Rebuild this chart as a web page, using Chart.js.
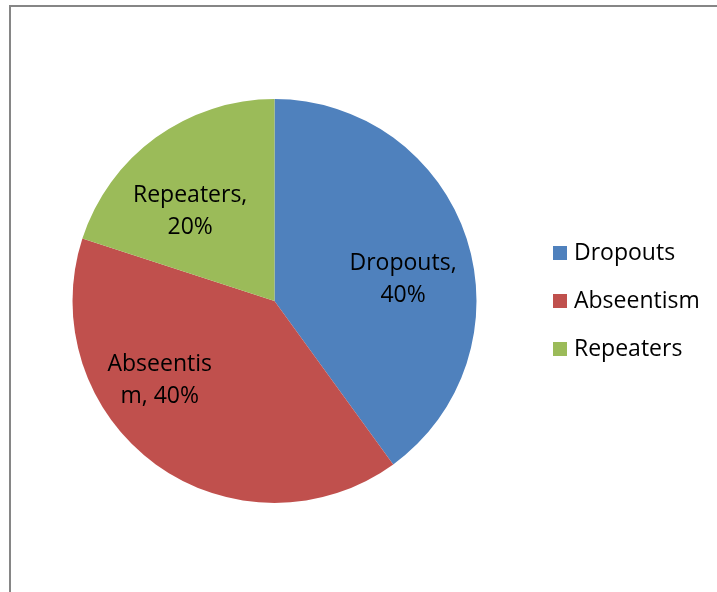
<!DOCTYPE html>
<html>
<head>
<meta charset="utf-8">
<script src="https://cdn.jsdelivr.net/npm/chart.js@4"></script>
<style>
  html, body { margin: 0; padding: 0; background: #fff; }
  #wrap { width: 717px; height: 592px; position: relative; }
</style>
</head>
<body>
<div id="wrap"><canvas id="pie" width="717" height="592"></canvas></div>
<script>
// --- data ---
const CATEGORIES = ['Dropouts', 'Abseentism', 'Repeaters'];
const PERCENTS = [40, 40, 20];
const LABEL_LINES = [['Dropouts,', '40%'], ['Abseentis', 'm, 40%'], ['Repeaters,', '20%']];
const COLORS = ['#4F81BD', '#C0504D', '#9BBB59'];

const FONT = "'Open Sans', 'Liberation Sans', sans-serif";

// where Excel's best-fit put each label: fraction along the arc, fraction of radius
const LABEL_PLACE = [[0.56, 0.645], [0.635, 0.69], [0.40, 0.61]];

const frame = {
  id: 'frame',
  beforeDraw(chart) {
    const ctx = chart.ctx;
    ctx.save();
    ctx.strokeStyle = '#868686';
    ctx.lineWidth = 2;
    ctx.strokeRect(10, 6, 900, 900);
    ctx.restore();
  }
};

const sliceLabels = {
  id: 'sliceLabels',
  afterDatasetsDraw(chart) {
    const ctx = chart.ctx;
    const arcs = chart.getDatasetMeta(0).data;
    ctx.save();
    ctx.font = '23px ' + FONT;
    ctx.fillStyle = '#000';
    ctx.textAlign = 'center';
    ctx.textBaseline = 'middle';
    arcs.forEach((a, i) => {
      const [f, rf] = LABEL_PLACE[i];
      const ang = a.startAngle + (a.endAngle - a.startAngle) * f;
      const r = a.outerRadius * rf;
      const cx = a.x + Math.cos(ang) * r;
      const cy = a.y + Math.sin(ang) * r;
      const lines = LABEL_LINES[i];
      const lh = 32;
      lines.forEach((t, k) => {
        ctx.fillText(t, cx, cy + (k - (lines.length - 1) / 2) * lh);
      });
    });
    ctx.restore();
  }
};

const sideLegend = {
  id: 'sideLegend',
  afterDraw(chart) {
    const ctx = chart.ctx;
    ctx.save();
    ctx.font = '23px ' + FONT;
    ctx.textBaseline = 'middle';
    ctx.textAlign = 'left';
    chart.data.labels.forEach((lab, i) => {
      const y = 253 + i * 48;
      ctx.fillStyle = COLORS[i];
      ctx.fillRect(553, y - 7, 14, 14);
      ctx.fillStyle = '#000';
      ctx.fillText(lab, 574, y);
    });
    ctx.restore();
  }
};

new Chart(document.getElementById('pie'), {
  type: 'pie',
  data: {
    labels: CATEGORIES,
    datasets: [{
      data: PERCENTS,
      backgroundColor: COLORS,
      borderWidth: 0,
    }]
  },
  options: {
    responsive: false,
    animation: false,
    layout: {padding: {left: 72, right: 240, top: 99, bottom: 89}},
    plugins: {
      legend: {display: false},
      tooltip: {enabled: false}
    }
  },
  plugins: [frame, sliceLabels, sideLegend]
});
</script>
</body>
</html>
